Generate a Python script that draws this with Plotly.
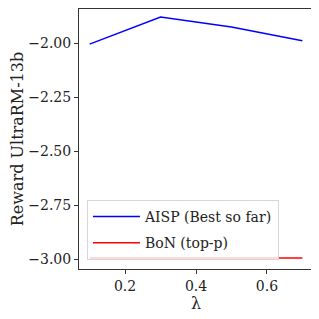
import plotly.graph_objects as go

lam = [0.1, 0.3, 0.5, 0.7]
aisp = [-2.005, -1.88, -1.926, -1.99]
bon = [-2.995, -2.995, -2.995, -2.995]

ytick_vals = [-2.0, -2.25, -2.5, -2.75, -3.0]
ytick_text = ["−2.00", "−2.25", "−2.50", "−2.75", "−3.00"]
xtick_vals = [0.2, 0.4, 0.6]
xtick_text = ["0.2", "0.4", "0.6"]

FONT = "DejaVu Serif"

fig = go.Figure()
fig.add_trace(go.Scatter(x=lam, y=aisp, mode="lines", name="AISP (Best so far)",
                         legendgroup="a", line=dict(color="#0000ff", width=1.5)))
fig.add_trace(go.Scatter(x=lam, y=bon, mode="lines", name="BoN (top-p)",
                         legendgroup="b", line=dict(color="#ff0000", width=1.5)))

fig.update_layout(
    width=319, height=319,
    margin=dict(l=71, r=14, t=1, b=58),
    paper_bgcolor="white", plot_bgcolor="white",
    font=dict(family=FONT, size=14, color="#222"),
    showlegend=True,
    legend=dict(x=0.034, y=0.035, xanchor="left", yanchor="bottom",
                bgcolor="rgba(255,255,255,0.8)", bordercolor="#d6d6d6", borderwidth=1,
                font=dict(family=FONT, size=14), tracegroupgap=5, itemwidth=47),
)
fig.update_xaxes(range=[0.07, 0.73], tickvals=xtick_vals, ticktext=xtick_text,
                 showgrid=False, zeroline=False, showline=True, mirror=True,
                 linecolor="#333", linewidth=1, ticks="outside", ticklen=4,
                 tickcolor="#333", automargin=False,
                 title=dict(text="λ", font=dict(size=16), standoff=5))
fig.update_yaxes(range=[-3.046, -1.8426], tickvals=ytick_vals, ticktext=ytick_text,
                 showgrid=False, zeroline=False, showline=True, mirror=True,
                 linecolor="#333", linewidth=1, ticks="outside", ticklen=4,
                 tickcolor="#333", automargin=False,
                 title=dict(text="Reward UltraRM-13b", font=dict(size=16), standoff=5))

fig.write_html("out.html")
